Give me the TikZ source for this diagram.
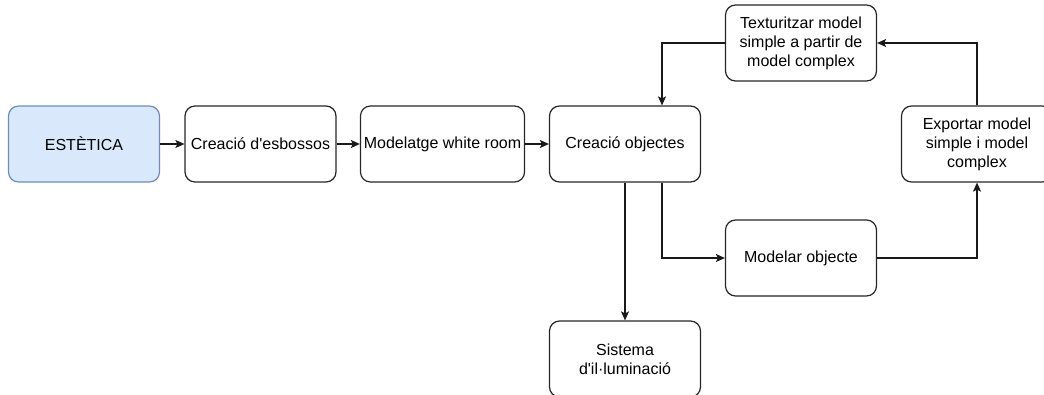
\documentclass[tikz,border=0pt]{standalone}
\usepackage{fontspec}
\setmainfont{Liberation Sans}
\usetikzlibrary{arrows.meta, positioning}
\definecolor{boxblue}{HTML}{DAE8FC}
\definecolor{lineblue}{HTML}{6C8EBF}
\newcommand{\apos}{\XeTeXglyph\XeTeXcharglyph"0027\relax}
\tikzset{%
  stepbox/.style={draw=black!85, line width=1.2pt, rounded corners=10pt,
                  minimum width=151pt, minimum height=76pt, align=center,
                  font=\fontsize{16}{19}\selectfont},
  ->-/.style={-{Stealth[length=9pt, width=8pt, inset=2pt]}, line width=1.2pt, draw=black!90},
}

\begin{document}
\begin{tikzpicture}[x=1pt, y=-1pt]
    \useasboundingbox (0,0) rectangle (1044,394);

    %boxes of the main row
    \node[stepbox, fill=boxblue, draw=lineblue] (est) at (84,144) {ESTÈTICA};
    \node[stepbox] (esb) at (260.5,144) {Creació d\apos esbossos};
    \node[stepbox, minimum width=163pt] (wr) at (442.5,144) {Modelatge white room};
    \node[stepbox] (obj) at (625,144) {Creació objectes};

    %right part
    \node[stepbox] (tex) at (801,43) {Texturitzar model\\simple a partir de\\model complex};
    \node[stepbox] (exp) at (977,144) {Exportar model\\simple i model\\complex};
    \node[stepbox] (mod) at (801,258) {Modelar objecte};
    \node[stepbox] (ilum) at (625,359) {Sistema\\d\apos il·luminació};

    %connectors
    \draw[->-] (est) -- (esb);
    \draw[->-] (esb) -- (wr);
    \draw[->-] (wr) -- (obj);
    \draw[->-] (obj) -- (ilum);
    \draw[->-] ([xshift=37pt]obj.south) |- (mod.west);
    \draw[->-] (mod.east) -| (exp.south);
    \draw[->-] (exp.north) |- (tex.east);
    \draw[->-] (tex.west) -| ([xshift=37pt]obj.north);

\end{tikzpicture}
\end{document}
